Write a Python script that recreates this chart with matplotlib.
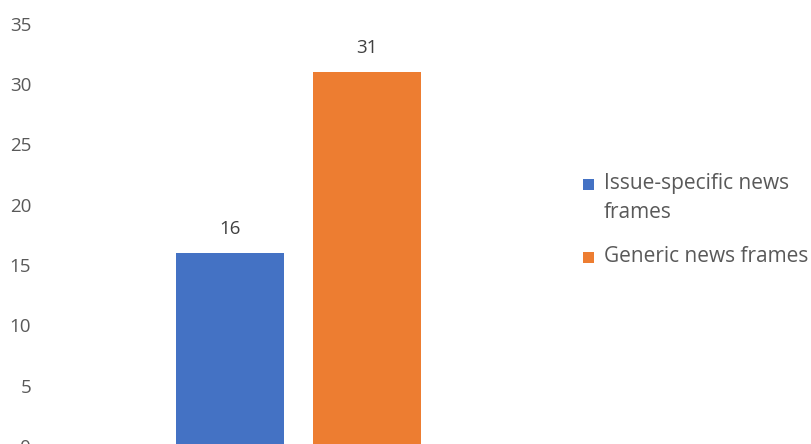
import matplotlib.pyplot as plt
from matplotlib.patches import Rectangle
import numpy as np

# Data
series = ['Issue-specific news\nframes', 'Generic news frames']
values = [16, 31]
colors = ['#4472C4', '#ED7D31']
yticks = [0, 5, 10, 15, 20, 25, 30, 35]

plt.rcParams['font.family'] = ['Open Sans', 'DejaVu Sans']

W, H = 811, 444
fig = plt.figure(figsize=(W / 100, H / 100), dpi=100)
# plot area in figure pixels: left 45, right 555, y=0 at 446, y=35 at 23.6
ax = fig.add_axes([45 / W, -2 / H, 510 / W, 422.4 / H])

# bar centres 137 px apart, width 108 px
pos = np.array([0, 1])
width = 108 / 137
bars = ax.bar(pos, values, width=width, color=colors)

for x, v in zip(pos, values):
    ax.text(x, v + 1.2, str(v), ha='center', va='bottom', fontsize=13.5, color='#404040')

ax.set_xlim((45 - 230) / 137, (555 - 230) / 137)
ax.set_ylim(0, 35)
ax.set_yticks(yticks)
ax.set_xticks([])
ax.tick_params(axis='y', length=0, labelsize=13.5, labelcolor='#595959', pad=10)
for s in ax.spines.values():
    s.set_visible(False)

# legend drawn by hand (wrapped label with wider line spacing)
entry_top = [184, 257]   # centre of first text line, px from top
line_gap = 28
for lab, col, yc in zip(series, colors, entry_top):
    fig.add_artist(Rectangle((583 / W, 1 - (yc + 6) / H), 11 / W, 11 / H,
                             transform=fig.transFigure, color=col, lw=0))
    for i, line in enumerate(lab.split('\n')):
        fig.text(604 / W, 1 - (yc + i * line_gap) / H, line, ha='left', va='center',
                 fontsize=15, color='#595959')

fig.savefig('out.png', dpi=100)
